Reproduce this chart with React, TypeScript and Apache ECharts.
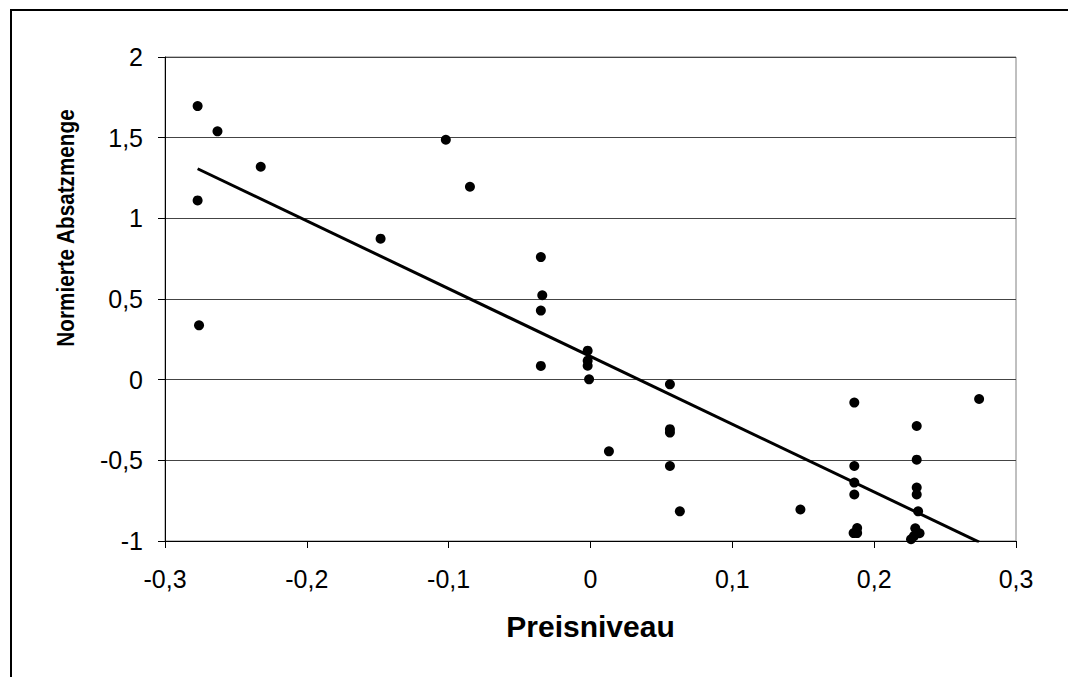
import React, { useEffect, useRef } from "react";
import * as echarts from "echarts";

// Preisniveau (x) and normierte Absatzmenge (y) of each observation
const preisniveau: number[] = [
  -0.277, -0.263, -0.2325, -0.277, -0.276, -0.148, -0.102, -0.085,
  -0.035, -0.034, -0.035, -0.035, -0.002, -0.002, -0.002, -0.001,
  0.013, 0.056, 0.056, 0.056, 0.056, 0.063, 0.148,
  0.186, 0.186, 0.186, 0.186, 0.188, 0.1855, 0.188,
  0.23, 0.23, 0.23, 0.23, 0.231, 0.229, 0.232, 0.228, 0.226, 0.274,
];
const absatzmenge: number[] = [
  1.696, 1.539, 1.32, 1.111, 0.337, 0.874, 1.487, 1.196,
  0.76, 0.523, 0.428, 0.085, 0.18, 0.118, 0.087, 0.002,
  -0.444, -0.029, -0.307, -0.328, -0.535, -0.816, -0.805,
  -0.142, -0.535, -0.638, -0.712, -0.92, -0.951, -0.951,
  -0.287, -0.496, -0.669, -0.712, -0.816, -0.921, -0.952, -0.97, -0.989, -0.12,
];

// Linear trend line y = slope * x + intercept
const trendSlope = -4.2;
const trendIntercept = 0.144;

// Axis ranges and tick steps
const xRange: [number, number, number] = [-0.3, 0.3, 0.1];
const yRange: [number, number, number] = [-1, 2, 0.5];

const xTitle = "Preisniveau";
const yTitle = "Normierte Absatzmenge";

const FONT = "Liberation Sans, Arial, Helvetica, sans-serif";

const fmt = (v: number) => {
  const r = Number(v.toFixed(2));
  return String(r === 0 ? 0 : r).replace(".", ",");
};

export default function App() {
  const ref = useRef<HTMLDivElement>(null);

  useEffect(() => {
    if (!ref.current) return;
    const chart = echarts.init(ref.current, undefined, { renderer: "svg" });

    const points = preisniveau.map((x, i) => [x, absatzmenge[i]]);
    const xMin = Math.min(...preisniveau);
    const xMax = Math.max(...preisniveau);
    const trend = [xMin, xMax].map((x) => [x, trendSlope * x + trendIntercept]);

    chart.setOption({
      animation: false,
      backgroundColor: "#fff",
      textStyle: { fontFamily: FONT },
      grid: {
        left: 165,
        top: 57,
        width: 851,
        height: 484,
        show: true,
        borderColor: "#808080",
        borderWidth: 1,
        backgroundColor: "transparent",
      },
      xAxis: {
        type: "value",
        min: xRange[0],
        max: xRange[1],
        interval: xRange[2],
        axisLine: { show: true, onZero: false, lineStyle: { color: "#000", width: 1 } },
        axisTick: { show: true, length: 7, lineStyle: { color: "#000" } },
        axisLabel: {
          fontSize: 25,
          color: "#000",
          margin: 25,
          fontFamily: FONT,
          formatter: fmt,
        },
        splitLine: { show: false },
        name: xTitle,
        nameLocation: "middle",
        nameGap: 70,
        nameTextStyle: { fontSize: 30, fontWeight: "bold", color: "#000", fontFamily: FONT },
      },
      yAxis: {
        type: "value",
        min: yRange[0],
        max: yRange[1],
        interval: yRange[2],
        axisLine: { show: true, onZero: false, lineStyle: { color: "#000", width: 1 } },
        axisTick: { show: true, length: 7, lineStyle: { color: "#000" } },
        axisLabel: {
          fontSize: 25,
          color: "#000",
          margin: 22,
          fontFamily: FONT,
          formatter: fmt,
        },
        splitLine: { show: true, lineStyle: { color: "#444", width: 1 } },
      },
      graphic: [
        {
          type: "rect",
          shape: { x: 11, y: 10, width: 1200, height: 800 },
          style: { fill: "none", stroke: "#000", lineWidth: 2 },
          silent: true,
        },
        {
          type: "text",
          x: 66,
          y: 228,
          rotation: Math.PI / 2,
          scaleX: 0.9,
          style: {
            text: yTitle,
            fontSize: 23,
            fontWeight: "bold",
            fontFamily: FONT,
            fill: "#000",
            align: "center",
            verticalAlign: "middle",
          },
          silent: true,
        },
      ],
      series: [
        {
          type: "scatter",
          data: points,
          symbol: "circle",
          symbolSize: 10,
          itemStyle: { color: "#000", opacity: 1 },
          clip: false,
          z: 3,
        },
        {
          type: "line",
          data: trend,
          showSymbol: false,
          symbol: "none",
          lineStyle: { color: "#000", width: 3 },
          clip: true,
          z: 4,
        },
      ],
    });

    return () => chart.dispose();
  }, []);

  return (
    <div
      ref={ref}
      style={{ position: "fixed", left: 0, top: 0, width: 1068, height: 677 }}
    />
  );
}
